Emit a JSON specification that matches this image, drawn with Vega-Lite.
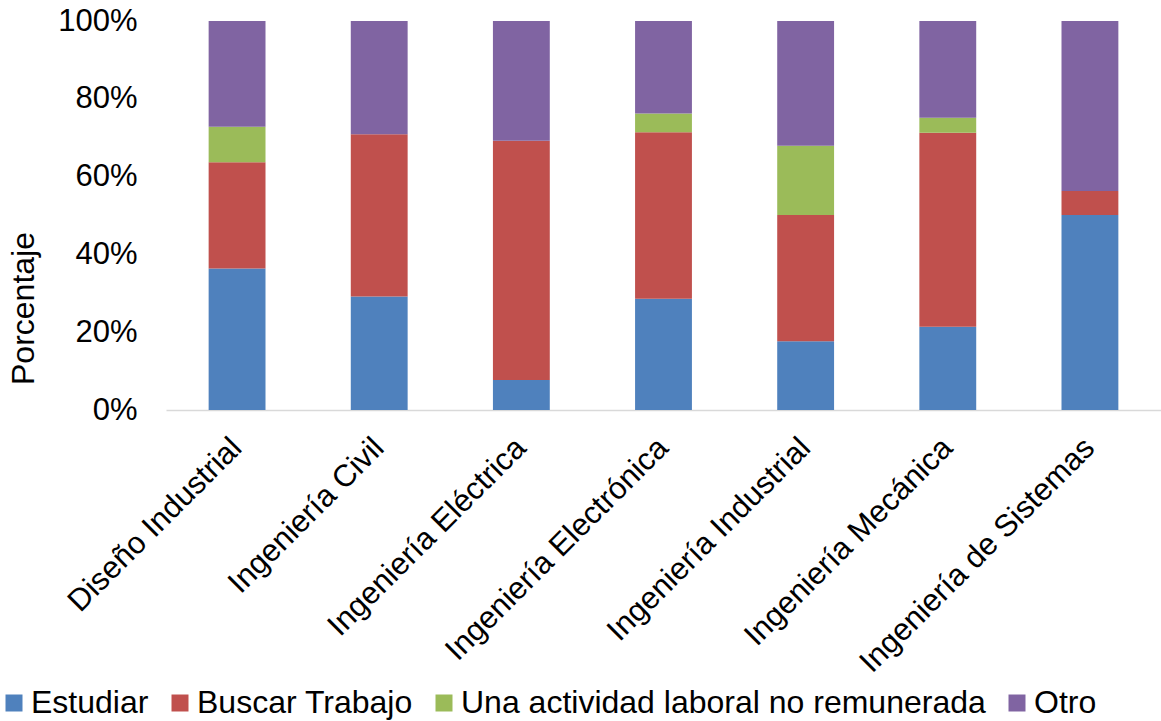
{
  "$schema": "https://vega.github.io/schema/vega-lite/v6.json",
  "width": 995,
  "height": 389,
  "autosize": {"type": "none"},
  "padding": {"left": 166, "top": 21, "right": 0, "bottom": 311},
  "background": "white",
  "config": {
    "font": "Liberation Sans",
    "view": {"stroke": null}
  },
  "data": {
    "values": [
      {"carrera": "Diseño Industrial", "opcion": "Estudiar", "orden": 1, "valor": 0.364},
      {"carrera": "Diseño Industrial", "opcion": "Buscar Trabajo", "orden": 2, "valor": 0.273},
      {"carrera": "Diseño Industrial", "opcion": "Una actividad laboral no remunerada", "orden": 3, "valor": 0.091},
      {"carrera": "Diseño Industrial", "opcion": "Otro", "orden": 4, "valor": 0.272},
      {"carrera": "Ingeniería Civil", "opcion": "Estudiar", "orden": 1, "valor": 0.292},
      {"carrera": "Ingeniería Civil", "opcion": "Buscar Trabajo", "orden": 2, "valor": 0.417},
      {"carrera": "Ingeniería Civil", "opcion": "Otro", "orden": 4, "valor": 0.291},
      {"carrera": "Ingeniería Eléctrica", "opcion": "Estudiar", "orden": 1, "valor": 0.077},
      {"carrera": "Ingeniería Eléctrica", "opcion": "Buscar Trabajo", "orden": 2, "valor": 0.615},
      {"carrera": "Ingeniería Eléctrica", "opcion": "Otro", "orden": 4, "valor": 0.308},
      {"carrera": "Ingeniería Electrónica", "opcion": "Estudiar", "orden": 1, "valor": 0.286},
      {"carrera": "Ingeniería Electrónica", "opcion": "Buscar Trabajo", "orden": 2, "valor": 0.428},
      {"carrera": "Ingeniería Electrónica", "opcion": "Una actividad laboral no remunerada", "orden": 3, "valor": 0.048},
      {"carrera": "Ingeniería Electrónica", "opcion": "Otro", "orden": 4, "valor": 0.238},
      {"carrera": "Ingeniería Industrial", "opcion": "Estudiar", "orden": 1, "valor": 0.177},
      {"carrera": "Ingeniería Industrial", "opcion": "Buscar Trabajo", "orden": 2, "valor": 0.324},
      {"carrera": "Ingeniería Industrial", "opcion": "Una actividad laboral no remunerada", "orden": 3, "valor": 0.178},
      {"carrera": "Ingeniería Industrial", "opcion": "Otro", "orden": 4, "valor": 0.321},
      {"carrera": "Ingeniería Mecánica", "opcion": "Estudiar", "orden": 1, "valor": 0.214},
      {"carrera": "Ingeniería Mecánica", "opcion": "Buscar Trabajo", "orden": 2, "valor": 0.499},
      {"carrera": "Ingeniería Mecánica", "opcion": "Una actividad laboral no remunerada", "orden": 3, "valor": 0.038},
      {"carrera": "Ingeniería Mecánica", "opcion": "Otro", "orden": 4, "valor": 0.249},
      {"carrera": "Ingeniería de Sistemas", "opcion": "Estudiar", "orden": 1, "valor": 0.501},
      {"carrera": "Ingeniería de Sistemas", "opcion": "Buscar Trabajo", "orden": 2, "valor": 0.062},
      {"carrera": "Ingeniería de Sistemas", "opcion": "Otro", "orden": 4, "valor": 0.437}
    ]
  },
  "mark": {"type": "bar"},
  "encoding": {
    "x": {
      "field": "carrera",
      "type": "nominal",
      "sort": null,
      "scale": {"paddingInner": 0.6, "paddingOuter": 0.3},
      "axis": {
        "title": null,
        "labelAngle": -45,
        "labelAlign": "right",
        "labelBaseline": "middle",
        "labelFontSize": 31,
        "labelColor": "#000000",
        "labelPadding": 33,
        "ticks": false,
        "tickSize": 0,
        "domainColor": "#d9d9d9",
        "domainWidth": 1.5,
        "grid": false,
        "labelLimit": 0
      }
    },
    "y": {
      "field": "valor",
      "type": "quantitative",
      "stack": "zero",
      "scale": {"domain": [0, 1], "nice": false},
      "axis": {
        "title": "Porcentaje",
        "titleFontSize": 32,
        "titleFontWeight": "normal",
        "titleColor": "#000000",
        "titleAngle": -90,
        "titleAlign": "center",
        "titleBaseline": "middle",
        "titleX": -143,
        "titleY": 287,
        "format": ".0%",
        "values": [0, 0.2, 0.4, 0.6, 0.8, 1],
        "labelFontSize": 31,
        "labelColor": "#000000",
        "labelPadding": 29,
        "ticks": false,
        "tickSize": 0,
        "domain": false,
        "grid": false
      }
    },
    "color": {
      "field": "opcion",
      "type": "nominal",
      "scale": {
        "domain": ["Estudiar", "Buscar Trabajo", "Una actividad laboral no remunerada", "Otro"],
        "range": ["#4F81BD", "#C0504D", "#9BBB59", "#8064A2"]
      },
      "legend": {
        "title": null,
        "orient": "none",
        "direction": "horizontal",
        "columns": 4,
        "legendX": -168,
        "legendY": 666,
        "padding": 0,
        "symbolType": "square",
        "symbolSize": 289,
        "symbolStrokeWidth": 0,
        "labelFontSize": 32,
        "labelColor": "#000000",
        "labelOffset": 1,
        "columnPadding": 15,
        "labelLimit": 0
      }
    },
    "order": {"field": "orden", "type": "quantitative", "sort": "ascending"}
  }
}
